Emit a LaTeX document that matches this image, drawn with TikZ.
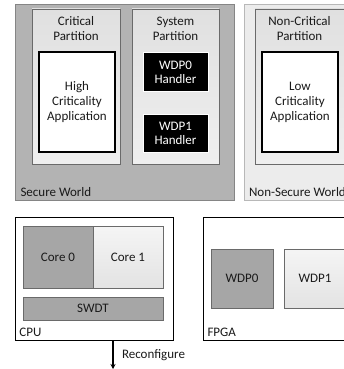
\documentclass[tikz,border=0pt]{standalone}
\usepackage{fontspec}
\setmainfont{Carlito}
\usetikzlibrary{arrows.meta,shadows}
\definecolor{secfill}{HTML}{B3B3B3}
\definecolor{secline}{HTML}{858585}
\definecolor{nsfill}{HTML}{ECECEC}
\definecolor{nsline}{HTML}{B8B8B8}
\definecolor{darkfill}{HTML}{A6A6A6}
\definecolor{boxline}{HTML}{6A6A6A}
\definecolor{txtcol}{HTML}{1A1A1A}
\definecolor{parttop}{HTML}{E0E0E0}
\definecolor{partbot}{HTML}{EFEFEF}
\begin{document}
\begin{tikzpicture}[x=1pt,y=-1pt,
  font=\fontsize{13}{15}\selectfont,
  every node/.style={inner sep=0pt, outer sep=0pt, text=txtcol},
  world/.style={draw=secline, line width=0.8pt, rectangle},
  partition/.style={draw=boxline, line width=0.9pt, top color=parttop, bottom color=partbot,
    drop shadow={opacity=0.25, shadow xshift=0.8pt, shadow yshift=-0.8pt}},
  appbox/.style={draw=black, line width=1.2pt, fill=white, align=center},
  handler/.style={fill=black, draw=white, line width=1pt, text=white, align=center,
    font=\fontsize{13}{14}\selectfont,
    drop shadow={opacity=0.35, shadow xshift=0.8pt, shadow yshift=-0.8pt}},
  hw/.style={draw=black, line width=1pt, fill=white},
  darkunit/.style={draw=boxline, line width=0.8pt, fill=darkfill},
  lightunit/.style={draw=boxline, line width=0.8pt, top color=gray!8, bottom color=gray!22},
  lbl/.style={anchor=west},
  ttl/.style={align=center}
]
\useasboundingbox (0,0) rectangle (344,369);
\clip (0,0) rectangle (344,369);

% worlds
\node[world, fill=secfill, minimum width=219pt, minimum height=196pt] (sw) at (124.5,102) {};
\node[world, draw=nsline, fill=nsfill, minimum width=112pt, minimum height=196pt] (nsw) at (300,102) {};

% partitions
\node[partition, minimum width=88pt, minimum height=155pt] (critp) at (76,86.5) {};
\node[partition, minimum width=87pt, minimum height=155pt] (sysp) at (175.5,86.5) {};
\node[partition, minimum width=89pt, minimum height=155pt] (ncritp) at (299.5,86.5) {};

\node[ttl] (critt) at (76,28.5) {Critical\\Partition};
\node[ttl] (syst) at (175.5,28.5) {System\\Partition};
\node[ttl] (ncritt) at (299.5,28.5) {Non-Critical\\Partition};

% applications
\node[appbox, minimum width=76pt, minimum height=100pt] (high) at (77,102) {High\\Criticality\\Application};
\node[appbox, minimum width=76pt, minimum height=100pt] (low) at (300,102) {Low\\Criticality\\Application};

% handlers
\node[handler, minimum width=65pt, minimum height=38pt] (h0) at (175.5,72) {WDP0\\Handler};
\node[handler, minimum width=65pt, minimum height=38pt] (h1) at (175.5,133) {WDP1\\Handler};

\node[lbl] (swl) at (20.5,192) {Secure World};
\node[lbl] (nswl) at (249,192.5) {Non-Secure World};

% hardware
\node[hw, minimum width=158pt, minimum height=123pt] (cpu) at (94,278.5) {};
\node[hw, minimum width=160pt, minimum height=123pt] (fpga) at (283,278.5) {};

\node[darkunit, minimum width=70pt, minimum height=62pt] (core0) at (58,257) {Core 0};
\node[lightunit, minimum width=70pt, minimum height=62pt] (core1) at (128,257) {Core 1};
\node[darkunit, minimum width=140pt, minimum height=23pt] (swdt) at (93,308.5) {SWDT};

\node[darkunit, minimum width=62pt, minimum height=59pt] (wdp0) at (242,278.5) {WDP0};
\node[lightunit, minimum width=62pt, minimum height=59pt] (wdp1) at (315,278.5) {WDP1};

\node[lbl] (cpul) at (19.5,332) {CPU};
\node[lbl] (fpgal) at (207.5,332) {FPGA};

% reconfigure arrow
\coordinate (rend) at (113,369);
\draw[line width=1.1pt, -{Stealth[length=5pt,width=5pt]}] ([xshift=19pt]cpu.south) -- (rend);
\node[lbl] (recl) at (122,355) {Reconfigure};
\end{tikzpicture}
\end{document}
